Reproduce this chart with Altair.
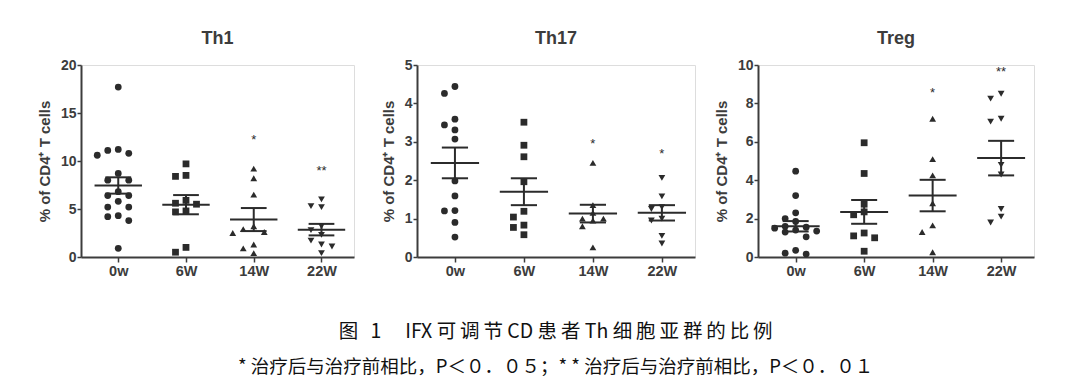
import altair as alt
import pandas as pd

CATS = ["0w", "6W", "14W", "22W"]
SHAPES = ["circle", "square", "triangle-up", "triangle-down"]
Y_TITLE = "% of CD4⁺ T cells"

# ---- Th1 ----
TH1_0W = [17.7, 11.2, 11.1, 10.8, 10.6, 8.7, 8.0, 8.0, 6.8, 6.4, 6.4, 5.8, 5.2, 5.2, 4.3, 4.2, 3.8, 0.9]
TH1_6W = [9.7, 8.5, 8.4, 5.9, 5.6, 5.5, 4.8, 4.7, 1.0, 0.5]
TH1_14W = [9.2, 8.2, 6.5, 3.2, 2.9, 2.6, 2.5, 1.3, 0.9, 0.4]
TH1_22W = [6.0, 5.3, 5.2, 3.2, 2.8, 2.3, 1.7, 1.3, 1.1, 0.4]
TH1_MEAN = [7.45, 5.45, 3.9, 2.85]
TH1_SEM = [0.85, 1.0, 1.2, 0.6]
TH1_SIG_CAT = ["14W", "22W"]
TH1_SIG_TXT = ["*", "**"]
TH1_SIG_Y = [12.2, 9.0]

# ---- Th17 ----
TH17_0W = [4.44, 4.26, 3.59, 3.44, 3.31, 3.07, 1.98, 1.59, 1.21, 1.2, 0.9, 0.52]
TH17_6W = [3.51, 2.91, 2.61, 1.96, 1.19, 1.04, 0.83, 0.77, 0.58]
TH17_14W = [2.45, 1.35, 1.15, 1.0, 1.0, 0.95, 0.8, 0.25]
TH17_22W = [2.06, 1.58, 1.3, 1.25, 1.0, 0.95, 0.55, 0.35]
TH17_MEAN = [2.45, 1.7, 1.13, 1.15]
TH17_SEM = [0.4, 0.35, 0.23, 0.2]
TH17_SIG_CAT = ["14W", "22W"]
TH17_SIG_TXT = ["*", "*"]
TH17_SIG_Y = [2.95, 2.67]

# ---- Treg ----
TREG_0W = [4.47, 3.2, 2.3, 2.0, 1.85, 1.6, 1.55, 1.5, 1.4, 1.35, 1.3, 1.05, 0.35, 0.2, 0.15]
TREG_6W = [5.95, 4.35, 2.75, 2.35, 2.2, 1.25, 1.1, 1.0, 0.3]
TREG_14W = [7.2, 5.1, 4.25, 2.8, 1.65, 1.3, 0.25]
TREG_22W = [8.5, 8.25, 7.2, 7.05, 4.8, 4.3, 2.5, 2.1, 1.8]
TREG_MEAN = [1.6, 2.35, 3.2, 5.15]
TREG_SEM = [0.27, 0.62, 0.82, 0.9]
TREG_SIG_CAT = ["14W", "22W"]
TREG_SIG_TXT = ["*", "**"]
TREG_SIG_Y = [8.55, 9.65]

TS = "\u2009"  # thin space used as letter spacing in the caption
CAPTION_1 = TS.join("图 1") + "　 IFX " + TS.join("可调节") + " CD " + TS.join("患者") + " Th " + TS.join("细胞亚群的比例")
CAPTION_2 = "* 治疗后与治疗前相比，P＜０．０５；* * 治疗后与治疗前相比，P＜０．０１"

FONT = "Liberation Sans"
INK = "#2b2b2b"
AXC = "#3c3c3c"
XDOM = [-0.55, 3.48]
HEIGHT = 192


def swarm(vals, ppu, step, d=7.0, dx=10.5):
    placed, offs = [], []
    for v in vals:
        y = v * ppu
        best, best_gap = 0.0, -1.0
        for k in [0, -1, 1, -2, 2]:
            x = k * dx
            gap = min([((x - px) ** 2 + (y - py) ** 2) ** 0.5 for px, py in placed] or [99.0])
            if gap >= d:
                best = x
                break
            if gap > best_gap:
                best, best_gap = x, gap
        placed.append((best, y))
        offs.append(best / step)
    return offs


def panel(title, groups, means, sems, sig_cat, sig_txt, sig_y, ymax, ystep, width):
    ppu = HEIGHT / ymax
    step = width / (XDOM[1] - XDOM[0])
    rows = []
    for i, (cat, vals) in enumerate(zip(CATS, groups)):
        for v, o in zip(vals, swarm(vals, ppu, step)):
            rows.append({"cat": cat, "x": i + o, "v": v})
    pts = pd.DataFrame(rows)
    st = pd.DataFrame({
        "cat": CATS,
        "i": list(range(len(CATS))),
        "m": means,
        "s": sems,
    })
    st["lo"] = st["m"] - st["s"]
    st["hi"] = st["m"] + st["s"]
    st["ml"] = st["i"] - 0.35
    st["mr"] = st["i"] + 0.35
    st["sl"] = st["i"] - 0.19
    st["sr"] = st["i"] + 0.19
    sg = pd.DataFrame({"cat": sig_cat, "t": sig_txt, "y": sig_y})
    sg["i"] = [CATS.index(c) for c in sig_cat]

    yvals = list(range(0, ymax + 1, ystep))
    xs = alt.Scale(domain=XDOM, nice=False, zero=False)
    ys = alt.Scale(domain=[0, ymax], nice=False, zero=True)
    label_expr = "[" + ",".join("'%s'" % c for c in CATS) + "][datum.value]"
    xax = alt.Axis(values=[0, 1, 2, 3], tickCount=len(CATS), labelExpr=label_expr, title=None,
                   grid=False, domainColor=AXC, domainWidth=2, tickColor=AXC, tickWidth=1.5,
                   tickSize=5, labelFont=FONT, labelFontWeight="bold", labelFontSize=14.5,
                   labelColor=AXC, labelPadding=2, labelOverlap=False)
    yax = alt.Axis(values=yvals, tickCount=len(yvals),
                   title=Y_TITLE, grid=False,
                   domainColor=AXC, domainWidth=2, tickColor=AXC, tickWidth=1.5, tickSize=4,
                   labelFont=FONT, labelFontWeight="bold", labelFontSize=14, labelColor=AXC,
                   labelPadding=1, labelOverlap=False, labelFlush=False,
                   titleFont=FONT, titleFontWeight="bold", titleFontSize=15,
                   titleColor=AXC, titlePadding=8)

    def X(f):
        return alt.X(f, type="quantitative", scale=xs, axis=xax)

    def Y(f):
        return alt.Y(f, type="quantitative", scale=ys, axis=yax)

    points = alt.Chart(pts).mark_point(filled=True, size=46, opacity=1, color=INK).encode(
        x=X("x"), y=Y("v"),
        shape=alt.Shape("cat:N", scale=alt.Scale(domain=CATS, range=SHAPES), legend=None),
    )
    mean_line = alt.Chart(st).mark_rule(color=INK, strokeWidth=2).encode(
        x=X("ml"), x2="mr:Q", y=Y("m"))
    sem_hi = alt.Chart(st).mark_rule(color=INK, strokeWidth=2).encode(
        x=X("sl"), x2="sr:Q", y=Y("hi"))
    sem_lo = alt.Chart(st).mark_rule(color=INK, strokeWidth=2).encode(
        x=X("sl"), x2="sr:Q", y=Y("lo"))
    sem_v = alt.Chart(st).mark_rule(color=INK, strokeWidth=2).encode(
        x=X("i"), y=Y("lo"), y2="hi:Q")
    sig = alt.Chart(sg).mark_text(font=FONT, fontSize=13, color=INK, baseline="middle").encode(
        x=X("i"), y=Y("y"), text="t:N")
    return alt.layer(points, mean_line, sem_hi, sem_lo, sem_v, sig).properties(
        width=width, height=HEIGHT,
        title=alt.TitleParams(title, font=FONT, fontSize=18, fontWeight="bold", color=AXC,
                              anchor="middle", frame="group", offset=10),
    )


p1 = panel("Th1", [TH1_0W, TH1_6W, TH1_14W, TH1_22W], TH1_MEAN, TH1_SEM,
           TH1_SIG_CAT, TH1_SIG_TXT, TH1_SIG_Y, 20, 5, 273)
p2 = panel("Th17", [TH17_0W, TH17_6W, TH17_14W, TH17_22W], TH17_MEAN, TH17_SEM,
           TH17_SIG_CAT, TH17_SIG_TXT, TH17_SIG_Y, 5, 1, 278)
p3 = panel("Treg", [TREG_0W, TREG_6W, TREG_14W, TREG_22W], TREG_MEAN, TREG_SEM,
           TREG_SIG_CAT, TREG_SIG_TXT, TREG_SIG_Y, 10, 2, 276)

chart = alt.hconcat(p1, p2, p3, spacing=63, bounds="flush").properties(
    title=alt.TitleParams(
        CAPTION_1, subtitle=CAPTION_2, orient="bottom", anchor="middle",
        font="Noto Sans CJK SC", fontSize=19.5, fontWeight="normal", color="#111111",
        subtitleFont="Noto Sans CJK SC", subtitleFontSize=18.5, subtitleColor="#111111",
        offset=45, subtitlePadding=15, dx=20,
    ),
    padding={"left": 28, "top": 21, "right": 10, "bottom": 0},
).configure_view(stroke=None).configure(background="white")

chart.save("out.html", embed_options={"renderer": "svg", "actions": False})
